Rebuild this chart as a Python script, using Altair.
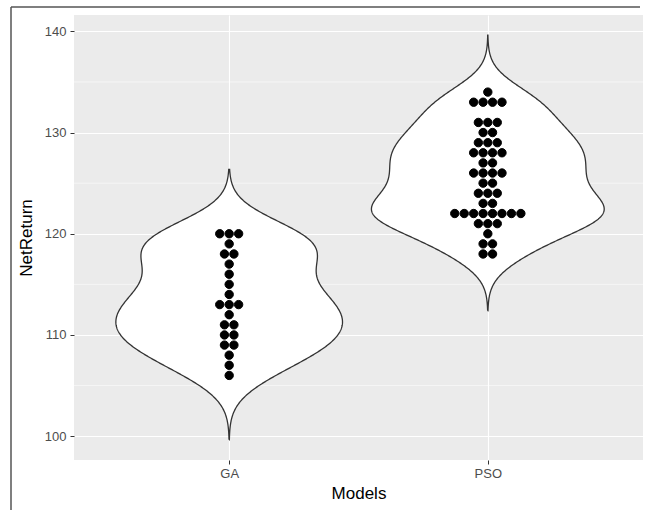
import altair as alt
import numpy as np
import pandas as pd

# NetReturn per run for each optimisation model
models = ["GA", "PSO"]
ga_returns = [120, 120, 120, 119, 118, 118, 117, 116, 115, 114, 113, 113, 113,
              112, 111, 111, 110, 110, 109, 109, 108, 107, 106]
pso_returns = [134, 133, 133, 133, 133, 131, 131, 131, 130, 130, 129, 129, 129,
               128, 128, 128, 128, 127, 127, 126, 126, 126, 126, 125, 125,
               124, 124, 124, 123, 123, 122, 122, 122, 122, 122, 122, 122, 122,
               121, 121, 121, 120, 119, 119, 118, 118]
y_major = [100, 110, 120, 130, 140]
y_minor = [105, 115, 125, 135]

W, H = 569, 445
series = {"GA": ga_returns, "PSO": pso_returns}
pos = {m: i + 1 for i, m in enumerate(models)}


def bw_nrd0(v):
    v = np.asarray(v, dtype=float)
    sd = v.std(ddof=1)
    iqr = np.percentile(v, 75) - np.percentile(v, 25)
    return 0.9 * min(sd, iqr / 1.34) * len(v) ** -0.2


# Gaussian kernel density per model, extended 3 bandwidths past the data
rows = []
lo_all, hi_all = np.inf, -np.inf
for m in models:
    v = np.asarray(series[m], dtype=float)
    bw = bw_nrd0(v)
    grid = np.linspace(v.min() - 3 * bw, v.max() + 3 * bw, 512)
    dens = np.exp(-0.5 * ((grid[:, None] - v[None, :]) / bw) ** 2).sum(1)
    dens /= len(v) * bw * np.sqrt(2 * np.pi)
    lo_all, hi_all = min(lo_all, grid[0]), max(hi_all, grid[-1])
    for g, d in zip(grid, dens):
        rows.append({"model": m, "value": g, "density": d})
violin = pd.DataFrame(rows)
violin["vw"] = violin["density"] / violin["density"].max()
violin["xl"] = violin["model"].map(pos) - 0.45 * violin["vw"]
violin["xr"] = violin["model"].map(pos) + 0.45 * violin["vw"]

# closed outline: up the left side, back down the right side
outline_parts = []
for m in models:
    d = violin[violin["model"] == m].sort_values("value")
    left = pd.DataFrame({"model": m, "value": d["value"], "x": d["xl"]})
    right = pd.DataFrame({"model": m, "value": d["value"][::-1], "x": d["xr"][::-1]})
    part = pd.concat([left, right, left.iloc[:1]], ignore_index=True)
    part["i"] = np.arange(len(part))
    outline_parts.append(part)
outline = pd.concat(outline_parts, ignore_index=True)

pad = 0.05 * (hi_all - lo_all)
y_dom = [lo_all - pad, hi_all + pad]
x_dom = [0.4, len(models) + 0.6]

# dot stacking: bin width = range / 30, dots stacked sideways around the centre
all_vals = ga_returns + pso_returns
binwidth = (max(all_vals) - min(all_vals)) / 30
px_y = H / (y_dom[1] - y_dom[0])
px_x = W / (x_dom[1] - x_dom[0])
dot_d = binwidth * px_y
step = dot_d / px_x

dots = pd.DataFrame(
    [{"model": m, "value": v} for m in models for v in series[m]]
)

x_scale = alt.Scale(domain=x_dom, nice=False, zero=False)
y_scale = alt.Scale(domain=y_dom, nice=False, zero=False)
label_expr = "datum.value == 1 ? 'GA' : datum.value == 2 ? 'PSO' : ''"

x_axis = alt.Axis(
    values=[1, 2], labelExpr=label_expr, title="Models",
    grid=True, gridColor="white", gridWidth=1.1, domain=False,
    tickColor="#333333", tickSize=4, tickWidth=1,
    labelColor="#4D4D4D", labelFontSize=13, labelPadding=3,
    titleFontSize=17, titleColor="black", titleFontWeight="normal",
    titlePadding=5,
)
y_axis = alt.Axis(
    values=y_major, title="NetReturn",
    grid=True, gridColor="white", gridWidth=1.1, domain=False,
    tickColor="#333333", tickSize=4, tickWidth=1,
    labelColor="#4D4D4D", labelFontSize=13, labelPadding=4,
    titleFontSize=17, titleColor="black", titleFontWeight="normal",
    titlePadding=9,
)

minor = alt.Chart(pd.DataFrame({"y": y_minor})).mark_rule(
    color="white", strokeWidth=0.55
).encode(y=alt.Y("y:Q", scale=y_scale, axis=y_axis))

violin_fill = alt.Chart(violin).mark_area(
    orient="horizontal", color="white", opacity=1, strokeWidth=0
).encode(
    y=alt.Y("value:Q", scale=y_scale, axis=y_axis),
    x=alt.X("xl:Q", scale=x_scale, axis=x_axis),
    x2="xr:Q",
    detail="model:N",
)

violin_line = alt.Chart(outline).mark_line(
    color="#333333", strokeWidth=1.3
).encode(
    y=alt.Y("value:Q", scale=y_scale, axis=y_axis),
    x=alt.X("x:Q", scale=x_scale, axis=x_axis),
    detail="model:N",
    order="i:Q",
)

points = alt.Chart(dots).transform_window(
    k="row_number()", groupby=["model", "value"]
).transform_joinaggregate(
    n="count()", groupby=["model", "value"]
).transform_calculate(
    xp=f"(datum.model == 'GA' ? 1 : 2) + (datum.k - (datum.n + 1) / 2) * {step}"
).mark_circle(
    color="black", opacity=1, size=np.pi * (dot_d / 2) ** 2,
    stroke="black", strokeWidth=1,
).encode(
    x=alt.X("xp:Q", scale=x_scale, axis=x_axis),
    y=alt.Y("value:Q", scale=y_scale, axis=y_axis),
)

frame_top = alt.Chart().mark_rule(color="#555555", strokeWidth=1.5).encode(
    x=alt.value(-63), x2=alt.value(566), y=alt.value(-8)
)
frame_left = alt.Chart().mark_rule(color="#555555", strokeWidth=1.5).encode(
    x=alt.value(-63), y=alt.value(-8), y2=alt.value(500)
)

chart = alt.layer(
    minor, violin_fill, violin_line, points, frame_top, frame_left
).properties(
    width=W, height=H,
    autosize=alt.AutoSizeParams(type="none"),
    padding={"left": 74, "top": 15, "right": 6, "bottom": 50},
    background="white",
).configure_view(
    fill="#EBEBEB", stroke=None,
).configure_axis(
    labelFont="Liberation Sans", titleFont="Liberation Sans",
)

chart.save("out.html", embed_options={"renderer": "svg", "actions": False})
